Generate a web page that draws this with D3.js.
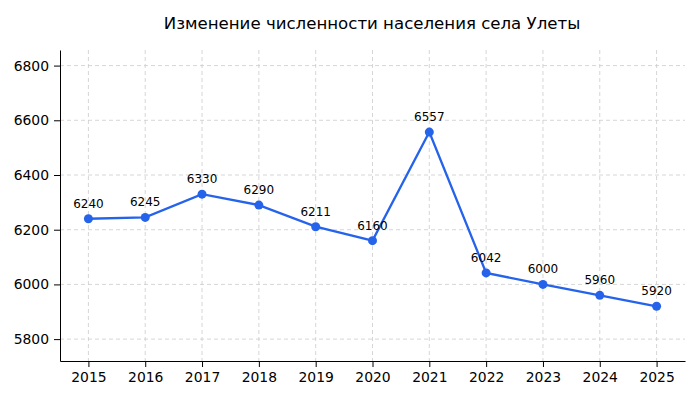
<!DOCTYPE html>
<html><head><meta charset="utf-8">
<script src="https://cdn.jsdelivr.net/npm/d3@7"></script>
<style>body{margin:0;background:#fff}</style>
</head><body>
<svg id="svg" width="700" height="400"></svg>
<script>
const years = [2015, 2016, 2017, 2018, 2019, 2020, 2021, 2022, 2023, 2024, 2025];
const population = [6240, 6245, 6330, 6290, 6211, 6160, 6557, 6042, 6000, 5960, 5920];
const yTicks = [5800, 6000, 6200, 6400, 6600, 6800];
const title = "Изменение численности населения села Улеты";

const svg = d3.select("#svg");
const margin = {top: 50, right: 15, bottom: 39, left: 60},
  width = 700 - margin.left - margin.right,
  height = 400 - margin.top - margin.bottom;
const g = svg.append("g").attr("transform", "translate(" + margin.left + "," + margin.top + ")");
const font = "DejaVu Sans, sans-serif";

const x = d3.scaleLinear().domain([2014.5, 2025.5]).range([0, width]);
const y = d3.scaleLinear().domain([5720, 6857]).range([height, 0]);

// grid
g.append("g").selectAll("line").data(years).enter().append("line")
  .attr("x1", d => x(d)).attr("x2", d => x(d)).attr("y1", 0).attr("y2", height)
  .attr("stroke", "#ccc").attr("stroke-dasharray", "4,3").attr("stroke-width", 0.8);
g.append("g").selectAll("line").data(yTicks).enter().append("line")
  .attr("y1", d => y(d)).attr("y2", d => y(d)).attr("x1", 0).attr("x2", width)
  .attr("stroke", "#ccc").attr("stroke-dasharray", "4,3").attr("stroke-width", 0.8);

const xAxis = g.append("g").attr("transform", "translate(0," + height + ")")
  .call(d3.axisBottom(x).tickValues(years).tickFormat(d3.format("d")).tickSizeOuter(0).tickPadding(5));
const yAxis = g.append("g")
  .call(d3.axisLeft(y).tickValues(yTicks).tickFormat(d3.format("d")).tickSizeOuter(0).tickPadding(5));
[xAxis, yAxis].forEach(a => {
  a.selectAll("text").style("font", "13.9px " + font).attr("fill", "#000");
  a.selectAll("line,path").attr("stroke", "#000");
});

const line = d3.line().x((d, i) => x(years[i])).y(d => y(d));
g.append("path").datum(population).attr("d", line)
  .attr("fill", "none").attr("stroke", "#2563eb").attr("stroke-width", 2.3);
g.selectAll(".pt").data(population).enter().append("circle")
  .attr("cx", (d, i) => x(years[i])).attr("cy", d => y(d)).attr("r", 4.5).attr("fill", "#2563eb");
g.selectAll(".lbl").data(population).enter().append("text")
  .attr("x", (d, i) => x(years[i])).attr("y", d => y(d) - 11)
  .attr("text-anchor", "middle").style("font", "12px " + font).text(d => d);

svg.append("text").attr("x", 372).attr("y", 29).attr("text-anchor", "middle")
  .style("font", "16.6px " + font).text(title);
</script>
</body></html>
